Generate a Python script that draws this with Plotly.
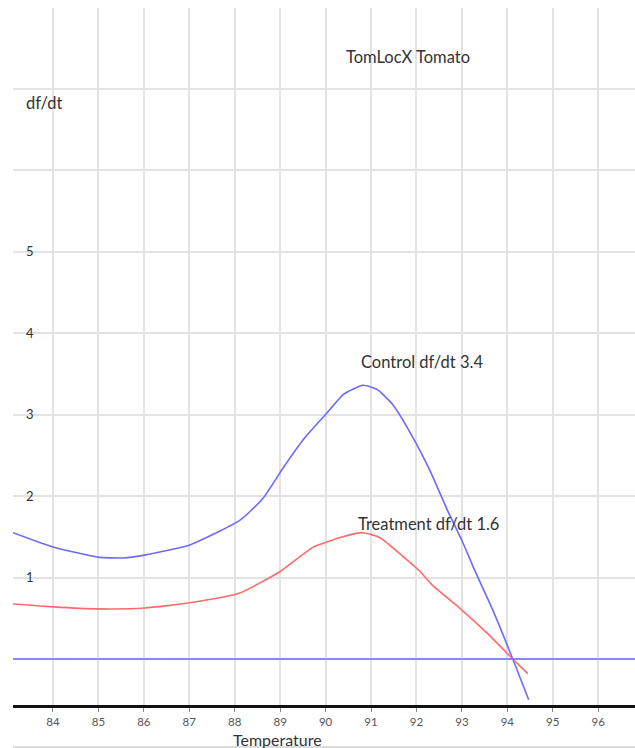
import plotly.graph_objects as go

# ---- data ----
control_temp = [83.12, 84.0, 84.99, 85.54, 86.02, 87.01, 88.11, 88.62, 89.06, 89.55,
                90.03, 90.40, 90.82, 91.13, 91.48, 91.92, 92.29, 92.67, 93.02, 93.28,
                93.68, 94.12, 94.47]
control_dfdt = [1.55, 1.375, 1.25, 1.24, 1.275, 1.40, 1.70, 1.97, 2.34, 2.72,
                3.02, 3.25, 3.36, 3.31, 3.12, 2.72, 2.32, 1.84, 1.43, 1.09,
                0.60, 0.0, -0.50]

treat_temp = [83.12, 84.0, 84.99, 86.02, 87.01, 88.11, 88.99, 89.72, 90.38, 90.82,
              91.19, 91.70, 92.07, 92.36, 92.95, 93.55, 94.12, 94.45]
treat_dfdt = [0.675, 0.64, 0.615, 0.625, 0.69, 0.81, 1.07, 1.37, 1.50, 1.55,
              1.49, 1.26, 1.08, 0.90, 0.625, 0.32, 0.0, -0.18]

baseline = 0
x_ticks = list(range(84, 97))
y_ticks = [0, 1, 2, 3, 4, 5, 6, 7]
y_ticktext = ["", "1", "2", "3", "4", "5", "", ""]

control_label = "Control df/dt 3.4"
treat_label = "Treatment df/dt 1.6"
title_text = "TomLocX Tomato"

FONT = "Lato, 'Open Sans', sans-serif"

fig = go.Figure()
fig.add_trace(go.Scatter(x=control_temp, y=control_dfdt, mode="lines",
                         line=dict(color="#6b6bff", width=1.6, shape="spline", smoothing=0.5),
                         hoverinfo="skip", showlegend=False))
fig.add_trace(go.Scatter(x=treat_temp, y=treat_dfdt, mode="lines",
                         line=dict(color="#ff6b6b", width=1.6, shape="spline", smoothing=0.5),
                         hoverinfo="skip", showlegend=False))

fig.add_hline(y=baseline, line=dict(color="#6b6bff", width=1.6), layer="above")

fig.add_annotation(x=92.12, y=3.65, text=control_label, showarrow=False,
                   font=dict(family=FONT, size=16.5, color="#333333"))
fig.add_annotation(x=92.27, y=1.66, text=treat_label, showarrow=False,
                   font=dict(family=FONT, size=16.5, color="#333333"))
fig.add_annotation(x=0.05, y=7 - 0.17, xref="paper", yref="y", text="df/dt", showarrow=False,
                   xanchor="center", font=dict(family=FONT, size=16.5, color="#333333"))
fig.add_annotation(x=0.426, y=-(739 - 705) / 697, xref="paper", yref="paper",
                   text="Temperature", showarrow=False, yanchor="middle",
                   font=dict(family=FONT, size=16, color="#333333"))

fig.update_layout(
    width=635, height=748,
    margin=dict(l=13, r=0, t=8, b=43),
    paper_bgcolor="white", plot_bgcolor="white",
    title=dict(text=title_text, x=408 / 635, xanchor="center", xref="container",
               y=1 - 57 / 748, yanchor="middle", yref="container",
               font=dict(family=FONT, size=16.5, color="#333333")),
    xaxis=dict(range=[83.12, 96.81], tickvals=x_ticks, showgrid=True,
               gridcolor="#e3e3e3", gridwidth=1.5, showline=True, linecolor="#111111",
               linewidth=2.5, ticks="outside", ticklen=4, tickcolor="#888888",
               tickfont=dict(family=FONT, size=11.5, color="#555555"), zeroline=False),
    yaxis=dict(range=[-0.565, 7.99], tickvals=y_ticks, ticktext=y_ticktext,
               showgrid=True, gridcolor="#e3e3e3", gridwidth=1.5, zeroline=False,
               showline=False, ticks="", ticklabelposition="inside",
               ticklabelstandoff=10,
               tickfont=dict(family=FONT, size=13, color="#333333")),
)

fig.add_shape(type="line", xref="paper", yref="paper", x0=0, x1=1,
              y0=-(747 - 705) / 697, y1=-(747 - 705) / 697,
              line=dict(color="#d0d0d0", width=1.5))

fig.write_html("out.html", config={"displayModeBar": False},
               post_script="document.body.style.margin='0';document.body.style.overflow='hidden';")
